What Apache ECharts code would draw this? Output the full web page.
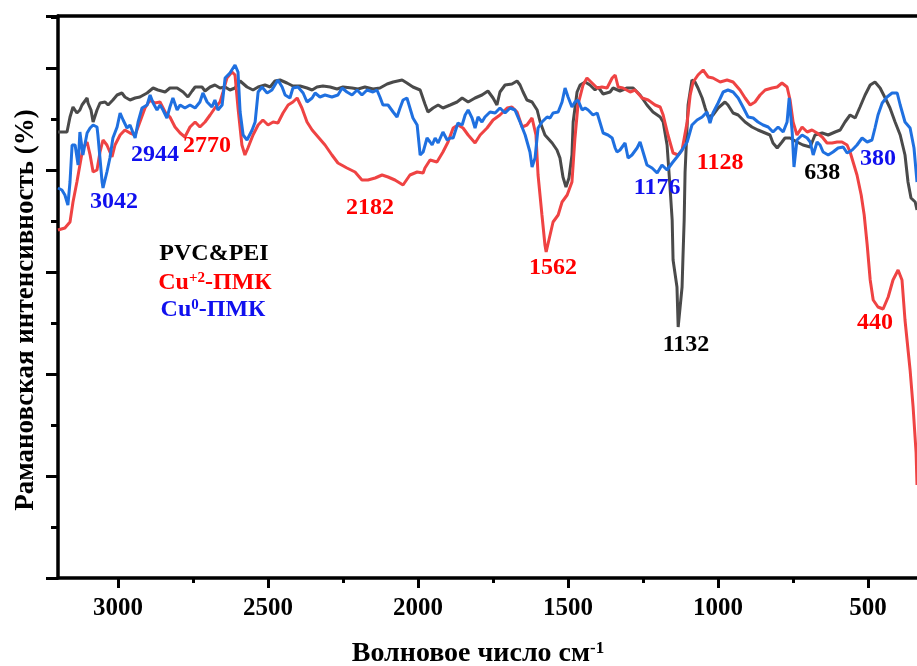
<!DOCTYPE html>
<html>
<head>
<meta charset="utf-8">
<script src="https://cdn.jsdelivr.net/npm/echarts@6/dist/echarts.min.js"></script>
<style>
  html, body { margin: 0; padding: 0; background: #fff; }
  #chart { width: 917px; height: 666px; }
</style>
</head>
<body>
<div id="chart"></div>
<script>
// wavenumber (cm-1) and intensity (arbitrary units, 0..562)
const blackWn = [3200,3170,3160,3150,3137,3127,3120,3103,3100,3090,3083,3070,3060,3043,3033,3017,3003,2987,2977,2960,2943,2927,2903,2883,2867,2843,2827,2803,2783,2767,2753,2743,2720,2710,2693,2677,2660,2643,2627,2610,2593,2570,2550,2533,2510,2493,2477,2460,2437,2417,2393,2370,2353,2337,2317,2293,2270,2250,2220,2200,2177,2150,2127,2103,2083,2053,2037,2017,1993,1977,1967,1950,1933,1917,1893,1870,1853,1833,1810,1787,1767,1750,1737,1727,1710,1687,1670,1660,1650,1637,1620,1603,1593,1577,1553,1537,1527,1517,1507,1497,1487,1483,1470,1460,1443,1427,1410,1400,1383,1360,1350,1327,1303,1283,1260,1237,1217,1193,1183,1170,1160,1153,1150,1137,1133,1120,1117,1113,1110,1100,1087,1077,1067,1053,1043,1033,1017,1000,977,967,950,933,910,887,867,843,827,817,803,787,777,760,737,717,693,677,653,633,610,593,577,560,543,527,510,493,477,460,443,427,410,393,377,367,357,343,337];
const blackInt = [446,446,461,471,465,468,473,480,475,468,456,468,475,476,473,478,483,485,481,478,480,481,485,490,488,486,490,490,486,481,487,491,491,487,491,493,490,491,488,490,497,491,488,491,493,491,497,498,495,492,492,490,488,491,492,491,489,491,490,489,491,489,490,494,496,498,495,491,488,474,466,470,473,470,473,476,480,476,480,483,487,480,473,486,493,494,497,493,486,478,476,468,456,443,435,428,420,401,391,400,423,456,486,493,496,493,488,491,484,486,490,487,490,490,483,473,466,461,456,433,390,358,318,291,251,291,321,358,406,473,498,496,490,480,470,461,463,470,476,473,465,463,456,451,448,445,443,435,430,436,440,440,436,433,431,443,445,443,446,448,456,463,460,471,483,493,496,490,480,470,456,443,423,396,380,376,368];

const redWn = [3200,3177,3160,3150,3137,3127,3117,3103,3093,3083,3070,3060,3050,3037,3020,3010,2993,2977,2960,2943,2927,2910,2893,2877,2860,2843,2827,2810,2793,2777,2760,2743,2727,2710,2693,2677,2660,2650,2637,2620,2610,2600,2587,2577,2567,2550,2533,2517,2500,2483,2467,2450,2433,2417,2403,2387,2370,2353,2333,2310,2287,2267,2237,2210,2187,2167,2143,2120,2100,2077,2050,2027,2003,1983,1977,1960,1937,1917,1900,1883,1867,1850,1833,1810,1793,1770,1750,1727,1703,1687,1670,1653,1637,1620,1607,1600,1587,1577,1573,1560,1550,1533,1520,1503,1487,1477,1467,1450,1437,1420,1403,1387,1370,1353,1343,1333,1317,1293,1277,1253,1233,1210,1193,1183,1167,1150,1133,1120,1103,1093,1083,1067,1050,1033,1017,993,970,950,927,910,893,877,860,843,820,803,787,770,760,750,737,720,703,687,670,653,637,620,603,587,570,560,550,537,523,513,503,493,483,467,450,433,417,400,387,377,360,350,340,337];
const redInt = [348,350,356,376,396,413,430,436,423,406,408,426,438,433,421,433,443,448,445,443,456,470,478,475,476,466,461,451,445,441,451,456,451,456,463,470,476,486,500,506,503,470,433,423,430,443,453,458,453,456,455,465,473,476,480,470,456,448,441,433,423,415,410,406,398,398,400,403,401,398,393,403,406,405,410,418,416,426,436,450,453,450,443,435,443,450,458,463,470,471,466,451,453,460,443,403,363,333,326,343,356,363,376,383,396,440,473,493,500,495,490,491,490,500,503,491,490,486,488,480,478,473,471,463,443,425,423,428,456,483,496,503,508,501,500,496,498,496,488,480,473,476,483,488,490,491,495,491,478,456,443,451,446,448,445,441,435,435,436,436,433,426,416,403,383,363,333,298,278,271,269,281,298,308,298,258,208,171,125,93];

const blueWn = [3200,3187,3177,3167,3160,3153,3143,3133,3127,3117,3103,3093,3083,3070,3067,3053,3050,3037,3027,3017,3003,2993,2983,2970,2960,2943,2933,2920,2903,2893,2883,2870,2860,2850,2837,2827,2817,2803,2793,2777,2760,2743,2727,2717,2703,2687,2677,2667,2653,2643,2627,2610,2600,2593,2583,2570,2553,2543,2533,2520,2503,2487,2477,2467,2453,2443,2427,2417,2400,2383,2370,2353,2343,2327,2310,2287,2267,2253,2237,2220,2203,2187,2170,2150,2137,2127,2117,2100,2083,2070,2060,2050,2037,2027,2017,2003,1993,1983,1970,1960,1953,1943,1933,1917,1903,1893,1883,1867,1853,1843,1833,1820,1810,1800,1787,1777,1760,1743,1727,1710,1693,1677,1660,1643,1627,1620,1610,1600,1587,1570,1560,1550,1533,1520,1510,1500,1487,1477,1467,1453,1443,1433,1417,1403,1393,1383,1367,1353,1343,1337,1327,1310,1300,1287,1270,1260,1250,1237,1220,1203,1187,1170,1153,1137,1120,1103,1087,1070,1053,1037,1027,1017,1000,983,967,950,933,917,900,883,867,850,833,817,800,783,770,763,753,747,737,720,703,693,683,670,660,650,633,617,600,583,570,553,537,520,503,487,477,467,453,437,420,403,393,377,360,347,337];
const blueInt = [390,388,383,373,396,433,433,413,446,423,445,450,453,451,443,396,390,406,420,440,451,465,458,450,453,440,456,470,473,483,475,468,473,468,460,471,480,468,473,470,473,470,476,485,476,471,478,468,473,500,505,513,506,466,443,438,448,456,486,491,485,488,493,498,491,483,480,490,491,485,476,480,485,481,483,481,483,490,486,483,488,483,488,486,488,481,473,473,466,461,470,478,480,470,460,453,423,426,440,436,433,440,435,446,438,440,440,455,453,463,468,460,450,461,456,461,466,465,470,465,470,468,456,443,426,411,420,450,456,461,460,465,466,476,490,481,471,476,478,468,470,468,463,465,455,445,443,440,430,426,428,435,420,423,430,436,426,413,410,405,413,408,415,421,428,436,453,458,461,466,455,465,475,486,488,486,480,471,461,460,456,453,451,446,451,446,456,480,446,411,438,443,440,436,423,436,433,426,423,426,430,431,425,428,433,440,436,438,450,463,475,481,485,485,473,456,450,430,396];

// peak annotations: text, and where the text sits
const blackPeaks = ['1132', '638'];
const blackPeakWn = [1107, 653];
const blackPeakInt = [233, 405];
const redPeaks = ['2770', '2182', '1562', '1128', '440'];
const redPeakWn = [2703, 2160, 1550, 993, 477];
const redPeakInt = [432, 370, 310, 415, 255];
const bluePeaks = ['3042', '2944', '1176', '380'];
const bluePeakWn = [3013, 2877, 1203, 467];
const bluePeakInt = [376, 423, 390, 419];

const majorTicks = [3000, 2500, 2000, 1500, 1000, 500];
const minorTicks = [2750, 2250, 1750, 1250, 750];

const FONT = '"Liberation Serif", "Times New Roman", serif';

function pairs(xs, ys) {
  return xs.map((x, i) => [x, ys[i]]);
}

function peakMarks(texts, xs, ys, color) {
  return {
    symbol: 'rect',
    symbolSize: [1, 1],
    itemStyle: { color: 'rgba(0,0,0,0)' },
    label: {
      show: true,
      position: 'inside',
      formatter: p => p.name,
      color: color,
      fontFamily: FONT,
      fontWeight: 'bold',
      fontSize: 24
    },
    data: texts.map((t, i) => ({ name: t, coord: [xs[i], ys[i]] }))
  };
}

function lineSeries(name, xs, ys, color, marks) {
  return {
    name: name,
    type: 'line',
    data: pairs(xs, ys),
    showSymbol: false,
    symbol: 'none',
    lineStyle: { color: color, width: 3 },
    itemStyle: { color: color },
    markPoint: marks,
    silent: true
  };
}

let chart = echarts.init(document.getElementById('chart'));

let option = {
  animation: false,
  backgroundColor: '#fff',
  grid: { left: 58, right: 0, top: 16, bottom: 88 },
  xAxis: [
    {
      type: 'value',
      inverse: true,
      min: 337,
      max: 3200,
      position: 'bottom',
      splitLine: { show: false },
      axisLine: { show: true, onZero: false, lineStyle: { color: '#000', width: 3.5 } },
      axisTick: { show: true, customValues: majorTicks, length: 10, lineStyle: { color: '#000', width: 3 } },
      axisLabel: {
        customValues: majorTicks,
        formatter: v => String(v),
        margin: 18,
        color: '#000',
        fontFamily: FONT,
        fontWeight: 'bold',
        fontSize: 25
      }
    },
    {
      type: 'value',
      inverse: true,
      min: 337,
      max: 3200,
      position: 'bottom',
      splitLine: { show: false },
      axisLine: { show: false, onZero: false },
      axisTick: { show: true, customValues: minorTicks, length: 5, lineStyle: { color: '#000', width: 3 } },
      axisLabel: { show: false }
    },
    {
      type: 'value',
      inverse: true,
      min: 337,
      max: 3200,
      position: 'top',
      splitLine: { show: false },
      axisLine: { show: true, onZero: false, lineStyle: { color: '#000', width: 3.5 } },
      axisTick: { show: false },
      axisLabel: { show: false }
    }
  ],
  yAxis: {
    type: 'value',
    min: 0,
    max: 562,
    interval: 102,
    splitLine: { show: false },
    axisLine: { show: true, onZero: false, lineStyle: { color: '#000', width: 3.5 } },
    axisTick: { show: true, length: 12, lineStyle: { color: '#000', width: 3 } },
    minorTick: { show: true, splitNumber: 2, length: 7, lineStyle: { color: '#000', width: 3 } },
    axisLabel: { show: false }
  },
  series: [
    lineSeries('PVC&PEI', blackWn, blackInt, '#4a4a4a', peakMarks(blackPeaks, blackPeakWn, blackPeakInt, '#000')),
    lineSeries('Cu+2-ПМК', redWn, redInt, '#ef4343', peakMarks(redPeaks, redPeakWn, redPeakInt, '#ff0000')),
    lineSeries('Cu0-ПМК', blueWn, blueInt, '#1f70e0', peakMarks(bluePeaks, bluePeakWn, bluePeakInt, '#1010ee'))
  ],
  graphic: [
    {
      type: 'text',
      x: 26,
      y: 310,
      rotation: Math.PI / 2,
      style: {
        text: 'Рамановская интенсивность (%)',
        fill: '#000',
        font: 'bold 27px ' + FONT,
        align: 'center',
        verticalAlign: 'middle'
      }
    },
    {
      type: 'text',
      x: 478,
      y: 654,
      style: {
        text: '{t|Волновое число см}{s|-1}',
        align: 'center',
        verticalAlign: 'middle',
        rich: {
          t: { fontFamily: FONT, fontWeight: 'bold', fontSize: 28, fill: '#000', verticalAlign: 'bottom' },
          s: { fontFamily: FONT, fontWeight: 'bold', fontSize: 17, fill: '#000', verticalAlign: 'top' }
        }
      }
    },
    {
      type: 'text',
      x: 214,
      y: 254,
      style: {
        text: 'PVC&PEI',
        fill: '#000',
        font: 'bold 24px ' + FONT,
        align: 'center',
        verticalAlign: 'middle'
      }
    },
    {
      type: 'text',
      x: 215,
      y: 283,
      style: {
        text: '{t|Cu}{s|+2}{t|-ПМК}',
        align: 'center',
        verticalAlign: 'middle',
        rich: {
          t: { fontFamily: FONT, fontWeight: 'bold', fontSize: 24, fill: '#ff0000', verticalAlign: 'bottom' },
          s: { fontFamily: FONT, fontWeight: 'bold', fontSize: 15, fill: '#ff0000', verticalAlign: 'top' }
        }
      }
    },
    {
      type: 'text',
      x: 213,
      y: 310,
      style: {
        text: '{t|Cu}{s|0}{t|-ПМК}',
        align: 'center',
        verticalAlign: 'middle',
        rich: {
          t: { fontFamily: FONT, fontWeight: 'bold', fontSize: 24, fill: '#1010ee', verticalAlign: 'bottom' },
          s: { fontFamily: FONT, fontWeight: 'bold', fontSize: 15, fill: '#1010ee', verticalAlign: 'top' }
        }
      }
    }
  ]
};

chart.setOption(option);
</script>
</body>
</html>
